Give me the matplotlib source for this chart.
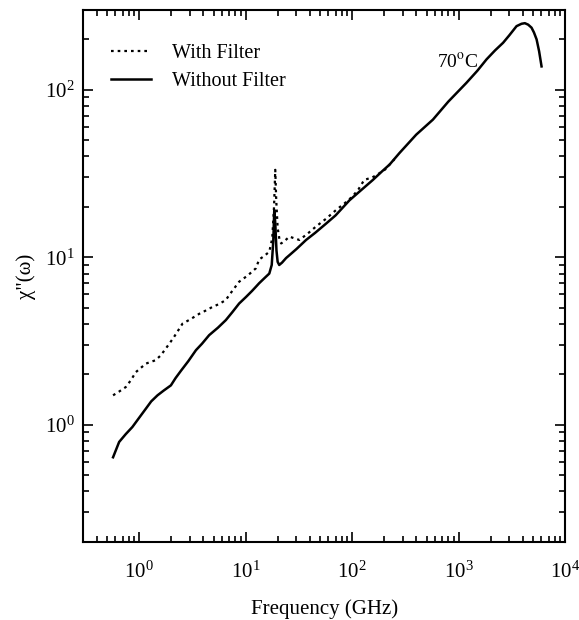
import matplotlib
matplotlib.use("Agg")
import matplotlib.pyplot as plt
import numpy as np

plt.rcParams['font.family'] = ['Liberation Serif', 'DejaVu Serif']
plt.rcParams['mathtext.fontset'] = 'stix'

# Without filter (solid)
freq_nf = [0.57, 0.65, 0.75, 0.865, 1.0, 1.16, 1.3, 1.49, 1.7, 1.99, 2.2, 2.47, 2.9, 3.42, 3.9,
           4.55, 5.5, 6.53, 7.5, 8.7, 10.1, 11.5, 12.5, 13.4, 15.0, 16.7, 17.6, 18.2, 18.6,
           19.0, 19.5, 20.0, 20.7, 22.0, 24.0, 25.8, 30.0, 37.0, 45.0, 57.0, 70.0, 94.5,
           120.0, 157.0, 190.0, 225.0, 279.0, 400.0, 574.0, 800.0, 1183.0, 1500.0, 1829.0,
           2200.0, 2618.0, 3000.0, 3500.0, 3900.0, 4190.0, 4500.0, 4840.0, 5100.0, 5400.0,
           5700.0, 6010.0]
chi_nf = [0.64, 0.79, 0.88, 0.97, 1.1, 1.25, 1.38, 1.5, 1.6, 1.72, 1.9, 2.1, 2.4, 2.79, 3.05,
          3.43, 3.8, 4.22, 4.7, 5.3, 5.8, 6.3, 6.67, 7.0, 7.5, 8.0, 9.0, 12.5, 19.2,
          16.0, 11.0, 9.4, 9.0, 9.3, 9.9, 10.3, 11.2, 12.7, 14.0, 15.9, 17.8, 21.9,
          25.0, 29.0, 32.5, 35.8, 42.0, 54.0, 66.4, 85.0, 110.0, 130.0, 152.0,
          172.0, 191.0, 212.0, 240.0, 248.0, 250.0, 245.0, 235.0, 220.0, 200.0,
          170.0, 138.0]

# With filter (dotted)
freq_wf = [0.57, 0.65, 0.75, 0.84, 0.93, 1.05, 1.16, 1.3, 1.43, 1.6, 1.78, 2.1, 2.56, 3.0,
           3.67, 4.2, 4.9, 5.6, 6.5, 7.5, 8.7, 10.5, 12.5, 13.4, 15.0, 16.7, 17.8, 18.5,
           19.0, 19.4, 20.0, 20.8, 21.6, 23.5, 25.8, 28.5, 32.0, 38.0, 46.0, 57.0, 71.0,
           85.0, 101.0, 115.0, 130.0, 155.0, 181.0, 205.0, 225.0, 250.0]
chi_wf = [1.50, 1.58, 1.68, 1.85, 2.06, 2.2, 2.32, 2.38, 2.43, 2.6, 2.85, 3.3, 4.02, 4.25,
          4.6, 4.8, 5.06, 5.25, 5.55, 6.3, 7.15, 7.8, 8.6, 9.7, 10.2, 10.8, 13.0, 20.0,
          33.3, 22.0, 15.0, 12.8, 12.1, 12.6, 13.3, 13.0, 12.7, 13.8, 15.3, 17.0, 19.2,
          21.0, 23.1, 25.5, 29.0, 30.0, 31.8, 33.5, 35.8, 38.5]

fig = plt.figure(figsize=(5.79, 6.20), dpi=100)
ax = fig.add_axes([0.144, 0.126, 0.832, 0.858])

ax.plot(freq_wf, chi_wf, color='black', linestyle=(0, (1.2, 1.8)), lw=1.6, label='With Filter')
ax.plot(freq_nf, chi_nf, color='black', linestyle='-', lw=1.8, label='Without Filter')

ax.set_xscale('log')
ax.set_yscale('log')
ax.set_xlim(0.3, 1e4)
ax.set_ylim(0.2, 300)

ax.tick_params(which='both', direction='in', top=True, right=True, labelsize=15, width=1.2)
ax.tick_params(which='major', length=7)
ax.tick_params(which='minor', length=4)
for s in ax.spines.values():
    s.set_linewidth(1.5)
ax.tick_params(axis='x', pad=14)
ax.tick_params(axis='y', pad=6)

ax.set_xlabel('Frequency (GHz)', fontsize=15, labelpad=12)
ax.set_ylabel('χ"(ω)', fontsize=15, labelpad=7)

ax.text(0.734, 0.902, r'70$^{\rm o}$C', transform=ax.transAxes, fontsize=14, ha='left', va='center')

leg = ax.legend(loc='upper left', bbox_to_anchor=(0.02, 0.97), frameon=False, fontsize=14.5,
                handlelength=2.0, handletextpad=1.0, labelspacing=0.45)

fig.savefig('out.png', dpi=100)
